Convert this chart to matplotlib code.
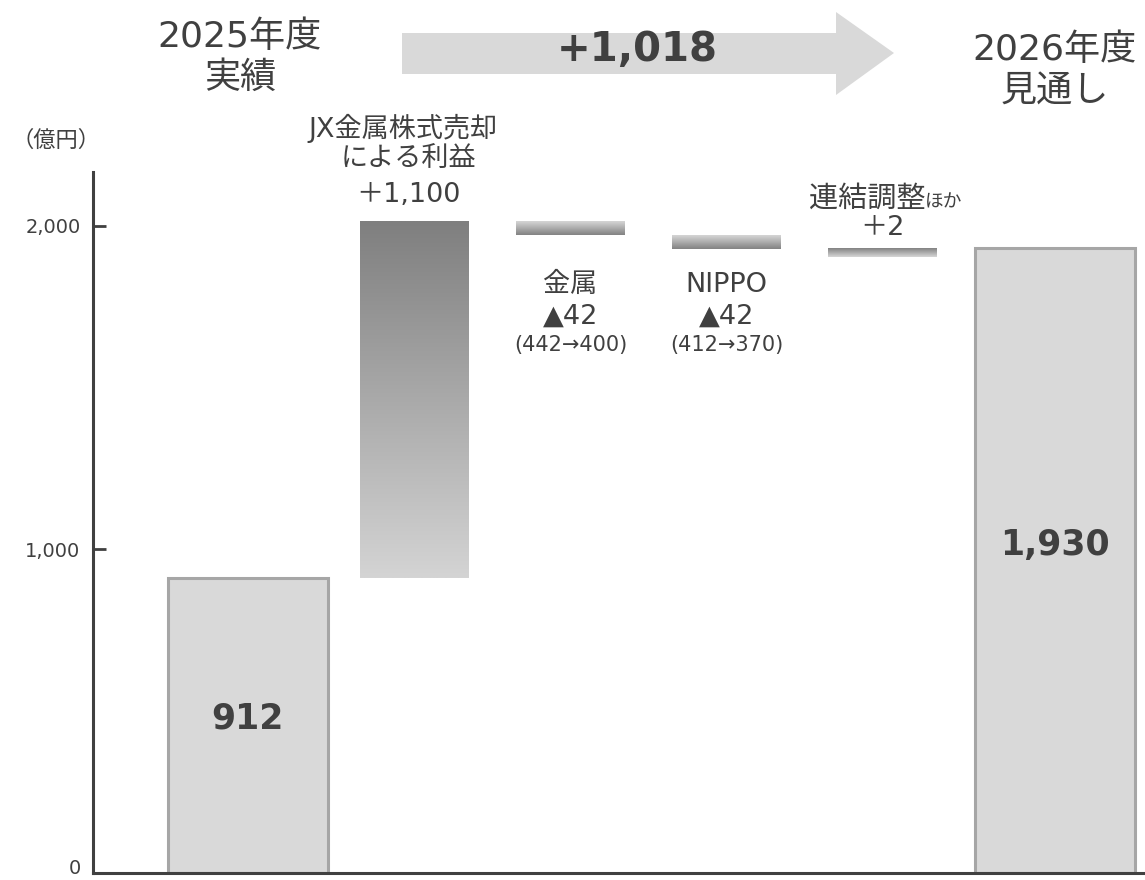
import numpy as np
import matplotlib
matplotlib.use('Agg')
import matplotlib.pyplot as plt
from matplotlib.colors import LinearSegmentedColormap
from matplotlib.patches import Polygon

plt.rcParams['font.family'] = ['DejaVu Sans', 'Noto Sans CJK JP']

# ---------------- data ----------------
start_label = ['2025年度', '実績']
end_label = ['2026年度', '見通し']
start_value = 912
end_value = 1930
step_names = [['JX金属株式売却', 'による利益'], ['金属'], ['NIPPO'], ['連結調整', 'ほか']]
step_values = [1100, -42, -42, 2]
step_details = ['', '(442→400)', '(412→370)', '']
tick_values = [0, 1000, 2000]
tick_labels = ['0', '1,000', '2,000']
unit_label = '（億円）'

# ---------------- style / layout ----------------
W, H = 1145, 880
TXT = '#404040'
BAR_FACE = '#d9d9d9'
BAR_EDGE = '#a6a6a6'
MIN_H = 27  # minimum visible height of a step bar (value units)
slot_pos = [0, 1.035, 2.0, 2.968, 3.93, 5.0]  # category slot positions

fig = plt.figure(figsize=(W / 100, H / 100), dpi=100)
ax = fig.add_axes([93 / W, 7 / H, 1 - 93 / W, (873 - 172) / H])

xs = np.array(slot_pos)
end_w = 0.99
step_w = 0.675

# start / end bars
ax.bar(xs[0], start_value, width=end_w, color=BAR_FACE, edgecolor=BAR_EDGE, linewidth=2.2, zorder=2)
ax.bar(xs[-1], end_value, width=end_w, color=BAR_FACE, edgecolor=BAR_EDGE, linewidth=2.2, zorder=2)

grad = np.linspace(0, 1, 256)[:, None]
cmap_big = LinearSegmentedColormap.from_list('gb', ['#d4d4d4', '#7f7f7f'])
cmap_small = LinearSegmentedColormap.from_list('gs', ['#d6d6d6', '#828282'])

level = start_value
for i, v in enumerate(step_values):
    x = xs[i + 1]
    lo, hi = sorted([level, level + v])
    if hi - lo < MIN_H:
        lo = hi - MIN_H
    arr = grad if v > 0 else grad[::-1]
    cm = cmap_big if abs(v) > 200 else cmap_small
    ax.imshow(arr, cmap=cm, extent=[x - step_w / 2, x + step_w / 2, lo, hi],
              origin='lower', aspect='auto', interpolation='bilinear', zorder=2)
    level += v

ax.set_xlim(-0.96, 5.56)
ax.set_ylim(0, 2166)

for s in ['top', 'right']:
    ax.spines[s].set_visible(False)
for s in ['left', 'bottom']:
    ax.spines[s].set_color(TXT)
    ax.spines[s].set_linewidth(2.2)
ax.set_xticks([])
ax.set_yticks(tick_values)
ax.set_yticklabels([''] + tick_labels[1:])
ax.tick_params(axis='y', direction='in', length=9, width=2, color=TXT,
               labelsize=14, labelcolor=TXT, pad=9)
ax.yaxis.get_major_ticks()[0].tick1line.set_visible(False)
# zero label sits just above the lower figure edge
ax.annotate(tick_labels[0], xy=(0, tick_values[0]), xycoords=('axes fraction', 'data'),
            xytext=(-12, 5), textcoords='offset pixels', ha='right', va='center',
            fontsize=14, color=TXT, annotation_clip=False)


def label(x, ypx, s, size, ha='center', va='center', dx=0, weight='normal', family=None):
    kw = {}
    if family:
        kw['family'] = family
    ax.annotate(s, xy=(x, H - ypx), xycoords=('data', 'figure pixels'),
                xytext=(dx, 0), textcoords='offset pixels', ha=ha, va=va,
                fontsize=size, color=TXT, fontweight=weight, annotation_clip=False, **kw)


def fmt(v):
    return ('＋' if v > 0 else '▲') + f'{abs(v):,}'


# bar value labels
label(xs[0], 718, f'{start_value:,}', 25, weight='bold')
label(xs[-1], 545, f'{end_value:,}', 25, weight='bold')

# step labels
label(xs[1], 128, step_names[0][0], 19.5, dx=-12)
label(xs[1], 160, step_names[0][1], 19.5, dx=-6)
label(xs[1], 195, fmt(step_values[0]), 19.5, dx=-6)

for k in (1, 2):
    label(xs[k + 1], 285, step_names[k][0], 19.5)
    label(xs[k + 1], 317, fmt(step_values[k]), 19.5)
    label(xs[k + 1], 345, step_details[k], 15)

label(xs[4], 207, step_names[3][0], 21, ha='right', va='baseline', dx=43)
label(xs[4], 207, step_names[3][1], 13.5, ha='left', va='baseline', dx=43)
label(xs[4], 228, fmt(step_values[3]), 19.5)

# unit
fig.text(56 / W, 1 - 140 / H, unit_label, fontsize=16, color=TXT, ha='center', va='center',
         family=['Noto Sans CJK JP'])

# headers
label(xs[0], 37, start_label[0], 26, dx=-8)
label(xs[0], 78, start_label[1], 26, dx=-8)
label(xs[-1], 50, end_label[0], 26)
label(xs[-1], 92, end_label[1], 26)

# big arrow
pts = [(402, 33), (836, 33), (836, 12), (894, 53), (836, 95), (836, 74), (402, 74)]
fig.patches.append(Polygon([(px / W, 1 - py / H) for px, py in pts], closed=True,
                           transform=fig.transFigure, facecolor='#d9d9d9', edgecolor='none', zorder=0))
fig.text(637 / W, 1 - 50 / H, f'+{end_value - start_value:,}', fontsize=29, fontweight='bold',
         color=TXT, ha='center', va='center', zorder=3)

fig.savefig('out.png', dpi=100)
